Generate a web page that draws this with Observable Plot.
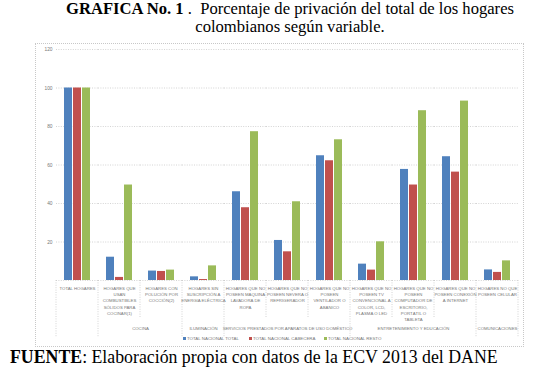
<!DOCTYPE html>
<html>
<head>
<meta charset="utf-8">
<script src="https://cdn.jsdelivr.net/npm/d3@7"></script>
<script src="https://cdn.jsdelivr.net/npm/@observablehq/plot@0.6"></script>
<style>
  html, body { margin: 0; padding: 0; background: #fff; }
  #root { position: relative; width: 540px; height: 368px; overflow: hidden; background: #fff; }
  #title { position: absolute; left: 0; top: 0; width: 540px; padding-left: 40px; box-sizing: border-box; text-align: center;
           font-family: "Liberation Serif", serif; font-size: 16.6px; line-height: 18px; color: #000; white-space: nowrap; }
  #frame { position: absolute; left: 35px; top: 43px; width: 489px; height: 304px; border: 1px dotted #c8c8c8; box-sizing: border-box; }
  #chart { position: absolute; left: 0; top: 43px; }
  #legend { position: absolute; left: 0; top: 336px; width: 540px; text-align: left; font-family: "Liberation Sans", sans-serif;
            font-size: 4.4px; color: #777; white-space: nowrap; }
  #legend span.item { position: absolute; top: 0; }
  #legend span.sw { display: inline-block; width: 3px; height: 3px; margin-right: 1px; vertical-align: 0px; }
  #source { position: absolute; left: 10px; top: 348px; font-family: "Liberation Serif", serif; font-size: 17.8px; line-height: 19px; color: #000; white-space: nowrap; }
</style>
</head>
<body>
<div id="root">
  <div id="title"><b>GRAFICA No. 1</b> .&nbsp; Porcentaje de privación del total de los hogares<br>colombianos según variable.</div>
  <div id="frame"></div>
  <div id="chart"></div>
  <div id="legend"></div>
  <div id="source"><b>FUENTE</b>: Elaboración propia con datos de la ECV 2013 del DANE</div>
</div>
<script>
// ---- data ----
const categories = [
  "TOTAL HOGARES",
  "HOGARES QUE\nUSAN\nCOMBUSTIBLES\nSÓLIDOS PARA\nCOCINAR(1)",
  "HOGARES CON\nPOLUCIÓN POR\nCOCCIÓN(2)",
  "HOGARES SIN\nSUSCRIPCIÓN A\nENERGÍA ELÉCTRICA",
  "HOGARES QUE NO\nPOSEEN MÁQUINA\nLAVADORA DE\nROPA",
  "HOGARES QUE NO\nPOSEEN NEVERA O\nREFRIGERADOR",
  "HOGARES QUE NO\nPOSEEN\nVENTILADOR O\nABANICO",
  "HOGARES QUE NO\nPOSEEN TV\nCONVENCIONAL A\nCOLOR, LCD,\nPLASMA O LED",
  "HOGARES QUE NO\nPOSEEN\nCOMPUTADOR DE\nESCRITORIO,\nPORTÁTIL O\nTABLETA",
  "HOGARES QUE NO\nPOSEEN CONEXIÓN\nA INTERNET",
  "HOGARES NO QUE\nPOSEEN CELULAR"
];
const series = ["TOTAL NACIONAL TOTAL", "TOTAL NACIONAL CABECERA", "TOTAL NACIONAL RESTO"];
const totalNacional =   [100, 12.1, 4.9, 1.9, 46.1, 20.8, 64.8, 8.5, 57.7, 64.3, 5.5];
const cabecera =        [100,  1.6, 4.7, 0.5, 37.8, 14.9, 62.2, 5.4, 49.6, 56.3, 4.2];
const resto =           [100, 49.6, 5.4, 7.6, 77.3, 40.9, 73.1, 20.1, 88.2, 93.2, 10.2];
const colors = ["#4F81BD", "#C0504D", "#9BBB59"];
const yTicks = [0, 20, 40, 60, 80, 100, 120];
// group labels: label, category it is centred on, anchored on that category's right edge?
const groupNames = ["COCINA", "ILUMINACIÓN", "SERVICIOS PRESTADOS POR APARATOS DE USO DOMÉSTICO", "ENTRETENIMIENTO Y EDUCACIÓN", "COMUNICACIONES"];
const groupCenterCat = [1, 3, 5, 8, 10];
const groupOnEdge = [true, false, false, false, false];
const groupBounds = [0, 1, 3, 4, 7, 10, 11];

// ---- build table ----
const valuesBySeries = [totalNacional, cabecera, resto];
const rows = [];
categories.forEach((c, i) => series.forEach((s, j) => rows.push({cat: c, serie: s, value: valuesBySeries[j][i]})));
const groups = groupNames.map((g, k) => ({label: g, cat: categories[groupCenterCat[k]], edge: groupOnEdge[k]}));

const font = '"Liberation Sans", sans-serif';
const fs = 4.3;

const plot = Plot.plot({
  width: 540,
  height: 300,
  marginLeft: 53,
  marginRight: 20,
  marginTop: 6,
  marginBottom: 63,
  style: {fontFamily: font, fontSize: "4.8px", color: "#777", background: "transparent", overflow: "visible"},
  fx: {domain: categories, paddingInner: 0, paddingOuter: 0, axis: null},
  x: {domain: series, paddingInner: 0.15, paddingOuter: 0.85, axis: null},
  y: {domain: [0, 120], ticks: 6, tickSize: 0, tickPadding: 4, label: null, tickFormat: d => d === 0 ? "" : d},
  color: {domain: series, range: colors},
  marks: [
    Plot.ruleY(yTicks, {stroke: "#c9c9c9", strokeDasharray: "1,1.4", strokeWidth: 0.8}),
    Plot.barY(rows, {fx: "cat", x: "serie", y: "value", fill: "serie"}),
    Plot.text(categories, {fx: d => d, text: d => d, frameAnchor: "bottom", lineAnchor: "top", dy: 5, lineHeight: 1.45, fill: "#777", fontSize: fs}),
    Plot.text(groups.filter(g => g.edge), {fx: "cat", text: "label", frameAnchor: "bottom-right", textAnchor: "middle", lineAnchor: "middle", dy: 48, fill: "#777", fontSize: fs}),
    Plot.text(groups.filter(g => !g.edge), {fx: "cat", text: "label", frameAnchor: "bottom", textAnchor: "middle", lineAnchor: "middle", dy: 48, fill: "#777", fontSize: fs})
  ]
});
document.getElementById("chart").appendChild(plot);

// category separators in the label area, positioned with the plot's fx scale
const fx = plot.scale("fx");
const svg = d3.select(plot.tagName.toLowerCase() === "svg" ? plot : plot.querySelector("svg"));
const yBase = 237;
for (let i = 0; i <= categories.length; i++) {
  const x = i < categories.length ? fx.apply(categories[i]) : fx.apply(categories[i - 1]) + fx.bandwidth;
  const long = groupBounds.includes(i);
  svg.append("line")
    .attr("x1", x).attr("x2", x)
    .attr("y1", yBase).attr("y2", yBase + (long ? 57 : 38))
    .attr("stroke", "#c9c9c9").attr("stroke-dasharray", "1,1.4").attr("stroke-width", 0.8);
}

// legend
const legend = document.getElementById("legend");
const legendX = [183, 249, 324];
series.forEach((s, j) => {
  const it = document.createElement("span");
  it.className = "item";
  it.style.left = legendX[j] + "px";
  it.innerHTML = `<span class="sw" style="background:${colors[j]}"></span>${s}`;
  legend.appendChild(it);
});
</script>
</body>
</html>
